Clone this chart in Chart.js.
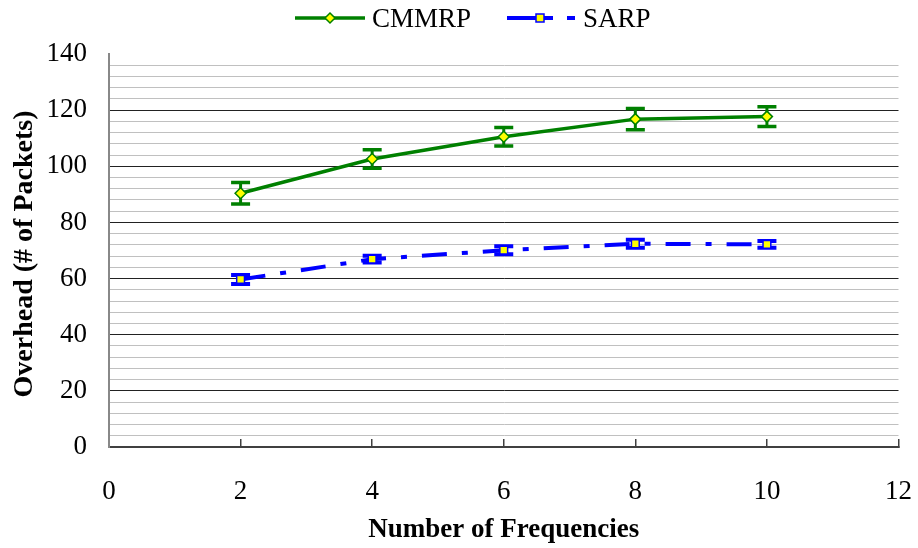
<!DOCTYPE html>
<html>
<head>
<meta charset="utf-8">
<script src="https://cdn.jsdelivr.net/npm/chart.js@4/dist/chart.umd.min.js"></script>
<style>
  html, body { margin: 0; padding: 0; background: #fff; }
</style>
</head>
<body>
<canvas id="chart" width="918" height="548"></canvas>
<script>
const frequencies = [2, 4, 6, 8, 10];
const cmmrp = [90.4, 102.6, 110.5, 116.8, 117.7];
const cmmrpErr = [3.8, 3.3, 3.3, 3.8, 3.5];
const sarp = [59.7, 66.9, 70.1, 72.4, 72.2];
const sarpErr = [1.6, 1.2, 1.4, 1.4, 1.2];

const serif = '"Liberation Serif", "Times New Roman", serif';
Chart.defaults.font.family = serif;
Chart.defaults.color = '#000';

function points(values) {
  return frequencies.map((f, i) => ({x: f, y: values[i]}));
}

// vertical error bars with caps, drawn under the lines and markers
const errorBars = {
  id: 'errorBars',
  beforeDatasetsDraw(chart) {
    const {ctx, scales: {x, y}} = chart;
    chart.data.datasets.forEach(ds => {
      ctx.save();
      ctx.strokeStyle = ds.borderColor;
      ds.data.forEach((p, j) => {
        const px = x.getPixelForValue(p.x);
        const top = y.getPixelForValue(p.y + ds.errors[j]);
        const bot = y.getPixelForValue(p.y - ds.errors[j]);
        ctx.lineWidth = 3;
        ctx.beginPath();
        ctx.moveTo(px, top);
        ctx.lineTo(px, bot);
        ctx.stroke();
        ctx.lineWidth = ds.capThickness;
        ctx.beginPath();
        ctx.moveTo(px - 9.5, top);
        ctx.lineTo(px + 9.5, top);
        ctx.moveTo(px - 9.5, bot);
        ctx.lineTo(px + 9.5, bot);
        ctx.stroke();
      });
      ctx.restore();
    });
  }
};

// legend in the excel style: line sample with marker in the middle
const topLegend = {
  id: 'topLegend',
  afterDraw(chart) {
    const ctx = chart.ctx;
    const [green, blue] = chart.data.datasets;
    const cy = 18;
    ctx.save();
    ctx.font = '27px ' + serif;
    ctx.textBaseline = 'alphabetic';

    ctx.strokeStyle = green.borderColor;
    ctx.lineWidth = 3.5;
    ctx.beginPath();
    ctx.moveTo(295, cy);
    ctx.lineTo(365, cy);
    ctx.stroke();
    ctx.fillStyle = green.pointBackgroundColor;
    ctx.lineWidth = 1.5;
    ctx.beginPath();
    ctx.moveTo(330, cy - 5);
    ctx.lineTo(335, cy);
    ctx.lineTo(330, cy + 5);
    ctx.lineTo(325, cy);
    ctx.closePath();
    ctx.fill();
    ctx.stroke();
    ctx.fillStyle = '#000';
    ctx.fillText(green.label, 372, 27);

    ctx.strokeStyle = blue.borderColor;
    ctx.lineWidth = 4;
    ctx.setLineDash([46, 14, 8, 60]);
    ctx.beginPath();
    ctx.moveTo(507, cy);
    ctx.lineTo(575, cy);
    ctx.stroke();
    ctx.setLineDash([]);
    ctx.fillStyle = blue.pointBackgroundColor;
    ctx.lineWidth = 1.5;
    ctx.fillRect(536, cy - 4, 8, 8);
    ctx.strokeRect(536, cy - 4, 8, 8);
    ctx.fillStyle = '#000';
    ctx.fillText(blue.label, 583, 27);
    ctx.restore();
  }
};

new Chart(document.getElementById('chart'), {
  type: 'line',
  data: {
    datasets: [{
      label: 'CMMRP',
      data: points(cmmrp),
      errors: cmmrpErr,
      capThickness: 3.5,
      borderColor: '#008000',
      borderWidth: 3.5,
      pointStyle: 'rectRot',
      pointRadius: 5.5,
      pointBorderWidth: 1.5,
      pointBorderColor: '#008000',
      pointBackgroundColor: '#ffff00',
      tension: 0,
    }, {
      label: 'SARP',
      data: points(sarp),
      errors: sarpErr,
      capThickness: 4,
      borderColor: '#0000ff',
      borderWidth: 4,
      borderDash: [25, 15, 6, 15],
      borderCapStyle: 'butt',
      pointStyle: 'rect',
      pointRadius: 5.5,
      pointBorderWidth: 1.5,
      pointBorderColor: '#0000ff',
      pointBackgroundColor: '#ffff00',
      tension: 0,
    }]
  },
  options: {
    responsive: false,
    animation: false,
    layout: {
      padding: {top: 54, right: 19.5, left: 0, bottom: 0}
    },
    plugins: {
      legend: {display: false},
      tooltip: {enabled: false}
    },
    scales: {
      x: {
        type: 'linear',
        min: 0,
        max: 12,
        ticks: {
          stepSize: 2,
          padding: 37,
          font: {size: 27}
        },
        grid: {
          drawOnChartArea: false,
          drawTicks: true,
          tickLength: -8,
          color: '#404040',
          lineWidth: 1.5
        },
        border: {color: '#404040', width: 2},
        title: {
          display: true,
          text: 'Number of Frequencies',
          font: {size: 27, weight: 'bold'},
          padding: {top: 0, bottom: 2}
        },
        afterFit(scale) {
          scale.height = 101;
          scale.paddingLeft = 0;
          scale.paddingRight = 0;
        }
      },
      y: {
        min: 0,
        max: 140,
        ticks: {
          stepSize: 4,
          autoSkip: false,
          padding: 22,
          font: {size: 27},
          callback: v => (v % 20 === 0 ? v : '')
        },
        grid: {
          drawTicks: false,
          color: ctx => {
            const v = ctx.tick.value;
            if (v === 140) return 'rgba(0,0,0,0)';
            return v % 20 === 0 ? '#222222' : '#c0c0c0';
          },
          lineWidth: 1
        },
        border: {color: '#888888', width: 2},
        title: {
          display: true,
          text: 'Overhead (# of Packets) ',
          font: {size: 28, weight: 'bold'},
          padding: {top: 8, bottom: 0}
        },
        afterFit(scale) { scale.width = 109; }
      }
    }
  },
  plugins: [errorBars, topLegend]
});
</script>
</body>
</html>
